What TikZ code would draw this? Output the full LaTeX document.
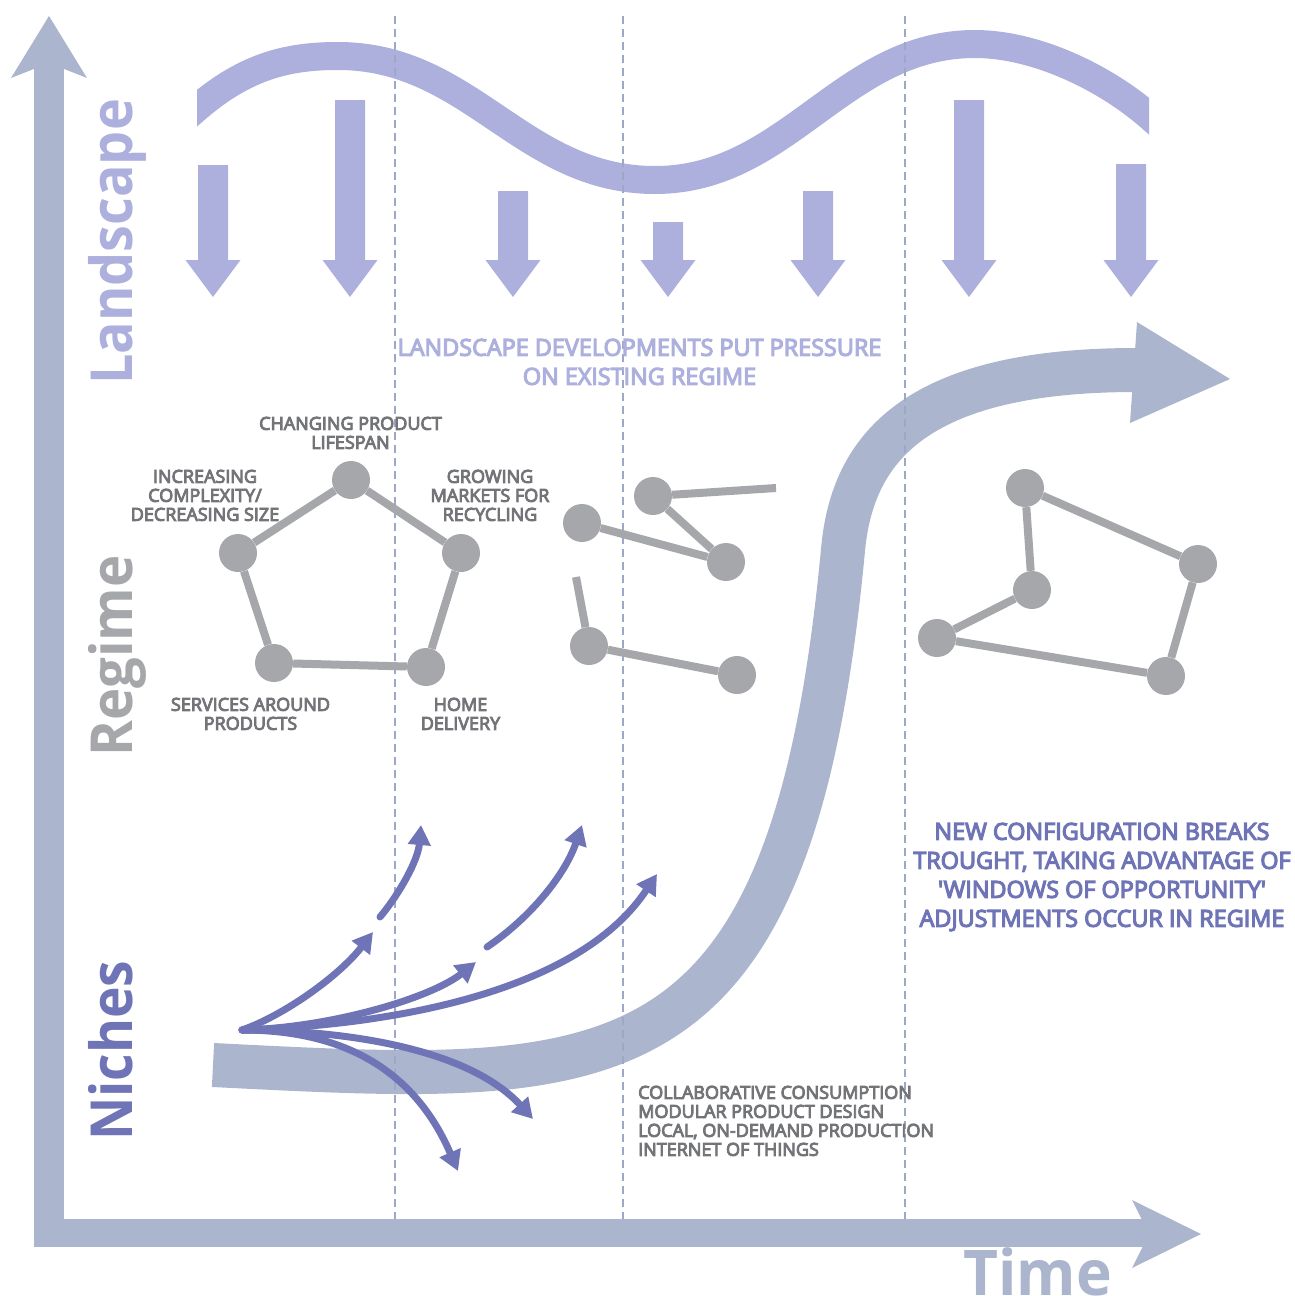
\documentclass[tikz,border=0pt]{standalone}
\usepackage{fontspec}
\setmainfont{Open Sans}
\newfontfamily\lblfont{Open Sans}[FakeBold=5]
\usetikzlibrary{arrows.meta}
\definecolor{axisc}{HTML}{ABB5CD}
\definecolor{lav}{HTML}{ADB0DD}
\definecolor{nodegray}{HTML}{A6A7AA}
\definecolor{lblgray}{HTML}{737478}
\definecolor{purp}{HTML}{6E74B6}
\definecolor{dashc}{HTML}{9DA8C6}
\begin{document}
\begin{tikzpicture}[x=1pt,y=-1pt,
  title/.style={font=\fontsize{58}{60}\selectfont\bfseries, inner sep=0pt},
  lbl/.style={text=lblgray, font=\lblfont\fontsize{18}{19}\selectfont, align=center, inner sep=0pt, anchor=north},
  biglbl/.style={font=\lblfont\fontsize{23.4}{29}\selectfont, align=center, inner sep=0pt, anchor=north},
  gnode/.style={circle, fill=nodegray, minimum size=38pt, inner sep=0pt},
  gedge/.style={draw=nodegray, line width=8pt},
  narrow/.style={draw=purp, line width=7pt, line cap=round, -{Triangle[length=20pt,width=22pt]}},
  dashline/.style={draw=dashc, line width=2pt, dash pattern=on 8pt off 5pt}]
\useasboundingbox (0,0) rectangle (1294,1296);
% axes
\fill[axisc] (34,63) rectangle (64,1247);
\fill[axisc] (34,1219) rectangle (1150,1247);
\fill[axisc] (49,16) -- (87,78) -- (49,63) -- (11,78) -- cycle;
\fill[axisc] (1201,1234) -- (1132,1268) -- (1149,1234) -- (1132,1200) -- cycle;
% landscape wave
\begin{scope}
\clip (197,0) rectangle (1149,300);
\draw[lav, line width=28pt, line join=round] (175,127) -- (197,108) .. controls (247,65) and (290,56) .. (338,56) .. controls (471,56) and (522,180) .. (655,180) .. controls (788,180) and (842,44) .. (975,44) .. controls (1035,44) and (1104,77) .. (1149,116) -- (1172,136);
\end{scope}
% pressure arrows
\foreach \cx/\ty in {213/165, 350/100, 513/191, 668/222, 818/191, 969/100, 1131/164}
  \fill[lav] ({\cx-15},\ty) -- ({\cx+15},\ty) -- ({\cx+15},260) -- ({\cx+27.5},260) -- (\cx,297) -- ({\cx-27.5},260) -- ({\cx-15},260) -- cycle;
% S-curve
\draw[axisc, line width=44pt] (213,1065) .. controls (613,1085) and (791,1100) .. (843,550) .. controls (852,450) and (913,370) .. (1136,370);
\fill[axisc] (1137,322) -- (1230,379) -- (1130,423) -- cycle;
% dashed lines
\foreach \x in {395,623,905} \draw[dashline] (\x,16) -- (\x,1219);
% regime pentagon
\node[gnode] (p1) at (351,480) {};
\node[gnode] (p2) at (238,553) {};
\node[gnode] (p3) at (461,553) {};
\node[gnode] (p4) at (274,663) {};
\node[gnode] (p5) at (426,667) {};
\draw[gedge] (p1) -- (p2); \draw[gedge] (p1) -- (p3);
\draw[gedge] (p2) -- (p4); \draw[gedge] (p3) -- (p5);
\draw[gedge] (p4) -- (p5);
% middle cluster
\node[gnode] (q1) at (653,496) {};
\node[gnode] (q2) at (582,523) {};
\node[gnode] (q3) at (726,562) {};
\node[gnode] (q4) at (589,646) {};
\node[gnode] (q5) at (737,675) {};
\coordinate (qe1) at (776,488);
\coordinate (qe2) at (576,577);
\draw[gedge] (q1) -- (qe1); \draw[gedge] (q1) -- (q3);
\draw[gedge] (q2) -- (q3); \draw[gedge] (q4) -- (qe2);
\draw[gedge] (q4) -- (q5);
% right cluster
\node[gnode] (r1) at (1025,488) {};
\node[gnode] (r2) at (1198,564) {};
\node[gnode] (r3) at (1032,590) {};
\node[gnode] (r4) at (937,638) {};
\node[gnode] (r5) at (1166,676) {};
\draw[gedge] (r1) -- (r2); \draw[gedge] (r1) -- (r3);
\draw[gedge] (r3) -- (r4); \draw[gedge] (r4) -- (r5);
\draw[gedge] (r5) -- (r2);
% niche arrows
\coordinate (o) at (242,1030);
\coordinate (t1) at (373,932);
\coordinate (s1) at (380,917);
\coordinate (u1) at (421,825);
\coordinate (t2) at (476,962);
\coordinate (s2) at (487,947);
\coordinate (u2) at (582,825);
\coordinate (t3) at (657,874);
\coordinate (t4) at (533,1119);
\coordinate (t5) at (458,1171);
\draw[narrow] (o) .. controls (285,1015) and (340,975) .. (t1);
\draw[narrow] (s1) .. controls (400,893) and (418,860) .. (u1);
\draw[narrow] (o) .. controls (330,1028) and (431,998) .. (t2);
\draw[narrow] (s2) .. controls (530,918) and (565,875) .. (u2);
\draw[narrow] (o) .. controls (400,1025) and (580,990) .. (t3);
\draw[narrow] (o) .. controls (350,1030) and (470,1050) .. (t4);
\draw[narrow] (o) .. controls (330,1030) and (410,1060) .. (t5);
% titles
\node[title, text=lav, anchor=base west, rotate=90] (land) at (132,385) {\scalebox{0.93}[1]{Landscape}};
\node[title, text=nodegray, anchor=base west, rotate=90] (reg) at (132,757) {\scalebox{0.94}[1]{Regime}};
\node[title, text=purp, anchor=base west, rotate=90] (nich) at (132,1141) {\scalebox{0.92}[1]{Niches}};
\node[inner sep=0pt, text=axisc, font=\fontsize{63}{63}\selectfont\bfseries, anchor=base west] (time) at (963,1295) {\scalebox{0.96}[1]{Time}};
% labels
\node[biglbl, text=lav] (ldev) at (639.5,338.6) {LANDSCAPE DEVELOPMENTS PUT PRESSURE\\ON EXISTING REGIME};
\node[biglbl, text=purp] (newc) at (1102,822.6) {NEW CONFIGURATION BREAKS\\TROUGHT, TAKING ADVANTAGE OF\\'WINDOWS OF OPPORTUNITY'\\ADJUSTMENTS OCCUR IN REGIME};
\node[lbl] (l1) at (350.5,416.6) {CHANGING PRODUCT\\LIFESPAN};
\node[lbl] (l2) at (205,469.6) {INCREASING\\COMPLEXITY/\\DECREASING SIZE};
\node[lbl] (l3) at (490,469.6) {GROWING\\MARKETS FOR\\RECYCLING};
\node[lbl] (l4) at (250.5,697.6) {SERVICES AROUND\\PRODUCTS};
\node[lbl] (l5) at (460.5,697.6) {HOME\\DELIVERY};
\node[lbl, align=left, anchor=north west] (l6) at (638,1085.6) {COLLABORATIVE CONSUMPTION\\MODULAR PRODUCT DESIGN\\LOCAL, ON-DEMAND PRODUCTION\\INTERNET OF THINGS};
\end{tikzpicture}
\end{document}
